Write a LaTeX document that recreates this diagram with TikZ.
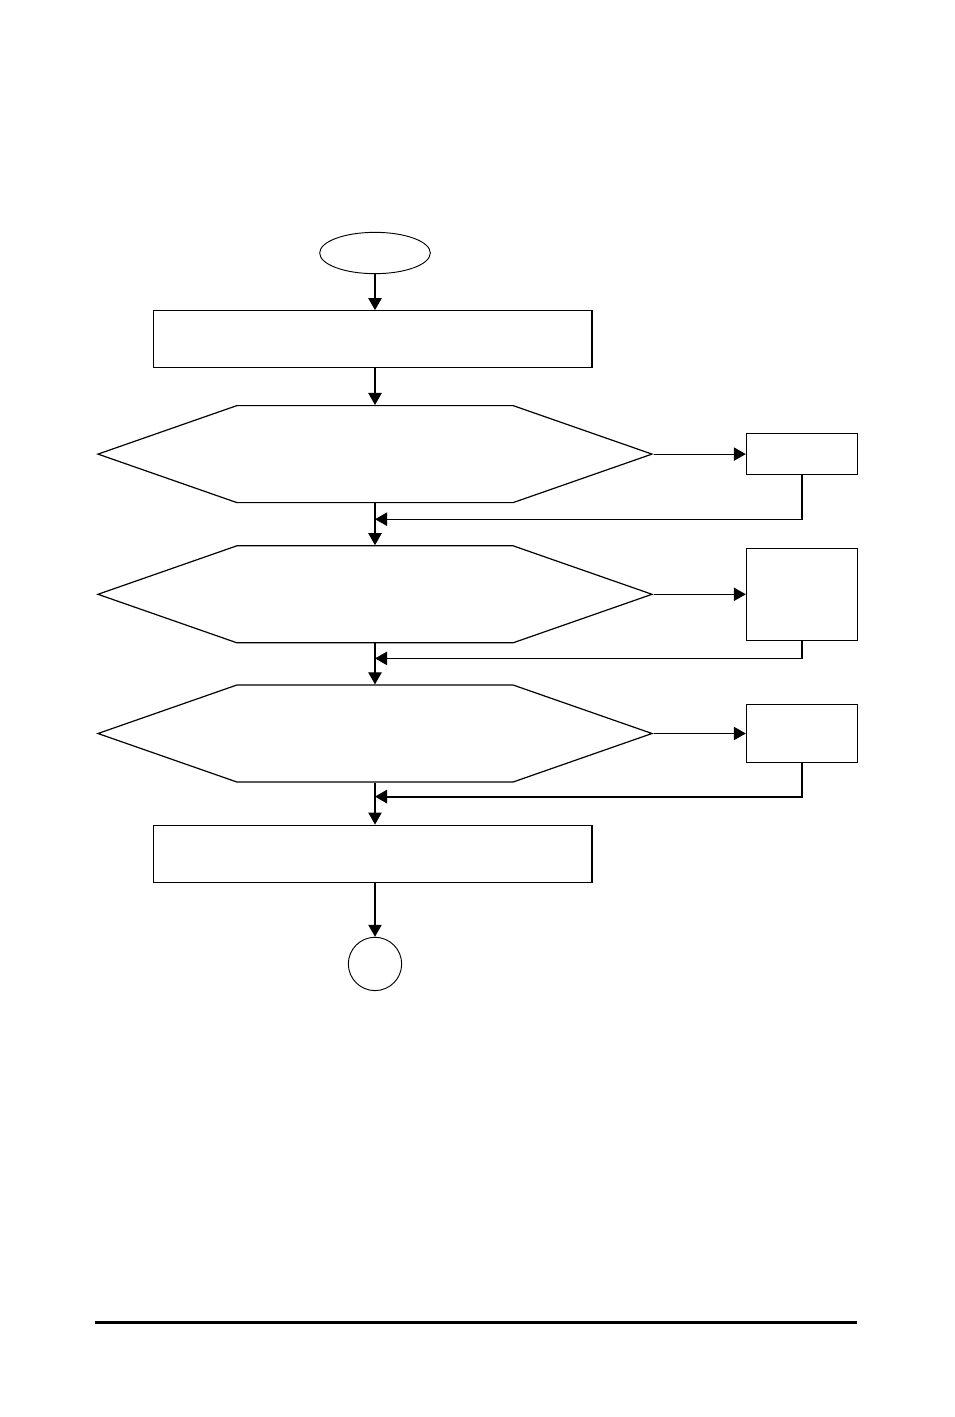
\documentclass[tikz,border=0pt]{standalone}
\usepackage{tikz}
\usetikzlibrary{positioning,arrows.meta,shapes.geometric,shapes.symbols,calc}

\begin{document}
\begin{tikzpicture}[
  x=0.75pt, y=-0.75pt,
  line width=0.9pt,
  terminal/.style={draw, ellipse, minimum width=83pt, minimum height=31pt, inner sep=0pt, line width=0.7pt},
  endpoint/.style={draw, circle, minimum size=40pt, inner sep=0pt, line width=0.7pt},
  process/.style={draw, rectangle, minimum width=329pt, minimum height=42.75pt, inner sep=0pt},
  decision/.style={draw, signal, signal to=west and east, signal pointer angle=38.5,
    minimum width=415.5pt, minimum height=72.75pt, inner sep=0pt},
  sidebox/.style={draw, rectangle, minimum width=83.25pt, inner sep=0pt},
  arr/.style={-{Triangle[length=9pt, width=10pt]}},
  pagerule/.style={line width=2.25pt}]

\useasboundingbox (0,0) rectangle (954,1417);

\node[terminal] (start) at (375,253) {};
\node[process, below=27pt of start, xshift=-1.8pt] (init) {};
\node[decision, below=27.5pt of init, xshift=1.8pt] (dec1) {};
\node[decision, below=31.5pt of dec1] (dec2) {};
\node[decision, below=30.75pt of dec2] (dec3) {};
\node[process, below=31.5pt of dec3, xshift=-1.8pt] (finish) {};
\node[endpoint, below=40.5pt of finish, xshift=1.8pt] (stop) {};

\node[sidebox, minimum height=30.75pt, right=69pt of dec1] (act1) {};
\node[sidebox, minimum height=69pt, right=69pt of dec2] (act2) {};
\node[sidebox, minimum height=43.5pt, right=69pt of dec3] (act3) {};

\coordinate (join1) at ($(dec1.south)+(0,-12pt)$);
\coordinate (join2) at ($(dec2.south)+(0,-11.25pt)$);
\coordinate (join3) at ($(dec3.south)+(0,-10.5pt)$);

\draw[arr] (start) -- (start |- init.north);
\draw[arr] (init.south -| dec1) -- (dec1);
\draw[arr] (dec1) -- (dec2);
\draw[arr] (dec2) -- (dec3);
\draw[arr] (dec3) -- (dec3 |- finish.north);
\draw[arr] (finish.south -| stop) -- (stop);

\draw[arr] (dec1.east) -- (act1);
\draw[arr] (dec2.east) -- (act2);
\draw[arr] (dec3.east) -- (act3);

\draw[arr] (act1.south) |- (join1);
\draw[arr] (act2.south) |- (join2);
\draw[arr, line width=1.4pt] (act3.south) |- (join3);

\draw[pagerule] (95,1322) -- (857,1322);
\end{tikzpicture}
\end{document}
